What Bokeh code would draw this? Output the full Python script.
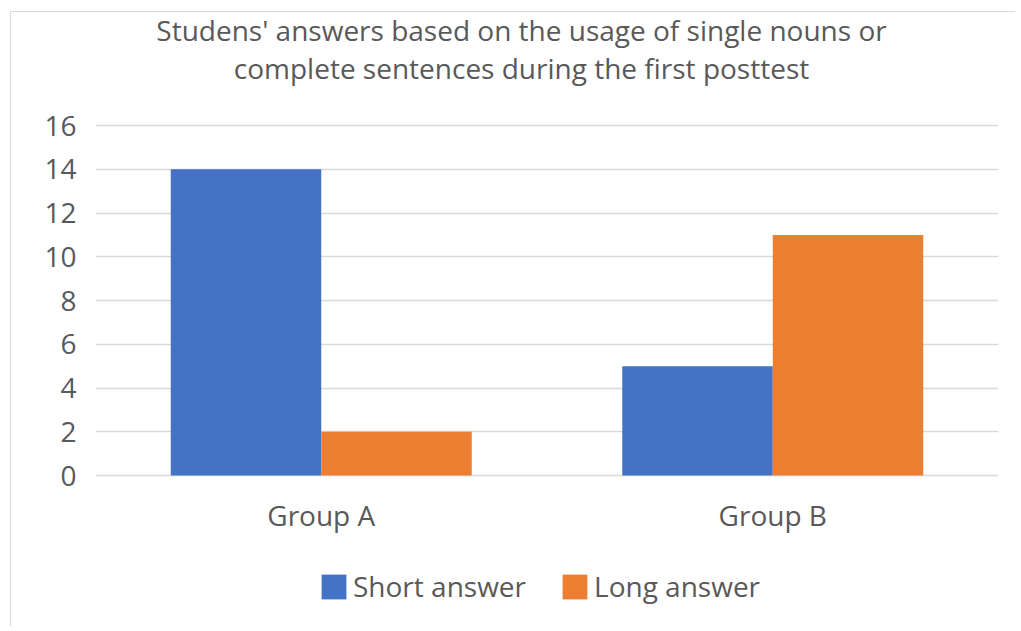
from bokeh.plotting import figure
from bokeh.models import ColumnDataSource, Range1d, Legend, LegendItem, FixedTicker, Label
from bokeh.core.properties import value
from bokeh.transform import dodge
from bokeh.embed import file_html
from bokeh.resources import INLINE

groups = ["Group A", "Group B"]
short_answer = [14, 5]
long_answer = [2, 11]
series_names = ["Short answer", "Long answer"]
y_ticks = [0, 2, 4, 6, 8, 10, 12, 14, 16]
title_lines = ["Studens' answers based on the usage of single nouns or",
               "complete sentences during the first posttest"]

FONT = "Open Sans"
TXT = "#595959"
GRID = "#D9D9D9"
BLUE = "#4472C4"
ORANGE = "#ED7D31"

# layout (pixels): canvas height, where the value axis 0 and 16 sit inside it
H = 615
Y0_PX = 463      # distance of value 0 from canvas top
Y16_PX = 113     # distance of value 16 from canvas top
ppu = (Y0_PX - Y16_PX) / 16.0
y_top = 16 + Y16_PX / ppu
y_bot = -(H - Y0_PX) / ppu

def py(px_from_top):
    return (Y0_PX - px_from_top) / ppu

src = ColumnDataSource(dict(group=groups, short=short_answer, long=long_answer))

p = figure(width=1005, height=H, x_range=groups, y_range=Range1d(y_bot, y_top),
           output_backend="svg", toolbar_location=None, title=None,
           min_border_left=84, min_border_right=18, min_border_top=0, min_border_bottom=0)
p.x_range.range_padding = 0
p.outline_line_color = None
p.background_fill_color = "white"
p.border_fill_color = "white"
p.styles = {"border-left": "1px solid #D9D9D9", "border-top": "1px solid #D9D9D9",
            "margin-left": "10px", "margin-top": "11px"}

r1 = p.vbar(x=dodge("group", -1/6, range=p.x_range), top="short", bottom=0, width=1/3,
            source=src, fill_color=BLUE, line_color=None)
r2 = p.vbar(x=dodge("group", 1/6, range=p.x_range), top="long", bottom=0, width=1/3,
            source=src, fill_color=ORANGE, line_color=None)

p.xaxis.visible = False
p.xgrid.grid_line_color = None
p.ygrid.grid_line_color = GRID
p.ygrid.grid_line_width = 1.5
p.ygrid.level = "underlay"
p.yaxis.ticker = FixedTicker(ticks=y_ticks)
ax = p.yaxis[0]
ax.axis_line_color = None
ax.major_tick_line_color = None
ax.minor_tick_line_color = None
ax.major_label_text_font = FONT
ax.major_label_text_color = TXT
ax.major_label_text_font_size = "28px"
ax.major_label_standoff = 13

# category labels under the bars
p.text(x=groups, y=[py(502)] * len(groups), text=groups, text_align="center",
       text_baseline="alphabetic", text_font=value(FONT), text_font_size="28px",
       text_color=TXT)

# title (two lines, centred on the chart)
for line, base in zip(title_lines, [17, 55]):
    p.add_layout(Label(x=426, x_units="screen", y=py(base), text=line,
                       text_align="center", text_baseline="alphabetic",
                       text_font=FONT, text_font_size="28px", text_color=TXT))

legend = Legend(items=[LegendItem(label=series_names[0], renderers=[r1]),
                       LegendItem(label=series_names[1], renderers=[r2])],
                orientation="horizontal", location=(223, 22),
                glyph_width=31, glyph_height=31, label_standoff=4, spacing=33,
                padding=0, margin=0, border_line_color=None, background_fill_alpha=0,
                label_text_font=FONT, label_text_font_size="28px", label_text_color=TXT)
p.add_layout(legend, "center")

open("out.html", "w").write(file_html(p, INLINE))
